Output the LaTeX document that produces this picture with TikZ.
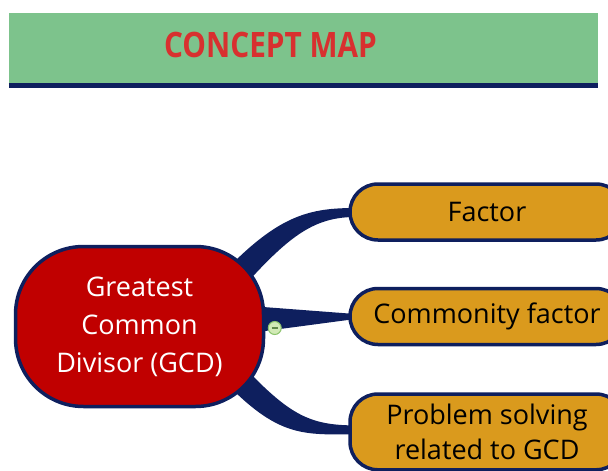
\documentclass[tikz,border=0pt]{standalone}
\usepackage{fontspec}
\setmainfont{Open Sans}
\usetikzlibrary{positioning}
\usetikzlibrary{calc}
\usetikzlibrary{backgrounds}
\definecolor{navy}{HTML}{0E1F5E}
\definecolor{bannergreen}{HTML}{7DC38C}
\definecolor{titlered}{HTML}{D8302F}
\definecolor{gcdred}{HTML}{C00000}
\definecolor{topicorange}{HTML}{DA9A1D}
\definecolor{foldgreen}{HTML}{D2EAB6}
\definecolor{foldedge}{HTML}{8CC46C}
\tikzset{
     banner/.style={
           rectangle,
           fill=bannergreen,
           minimum width=589pt,
           minimum height=72pt,
           inner sep=0pt,
           },
     maintopic/.style={
           rectangle,
           rounded corners=68pt,
           fill=gcdred,
           draw=navy, line width=3.5pt,
           minimum width=248pt,
           minimum height=160pt,
           text=white,
           align=center,
           font=\fontsize{27}{38}\selectfont,
           },
     subtopic/.style={
           rectangle,
           rounded corners=28pt,
           fill=topicorange,
           draw=navy, line width=3.5pt,
           minimum width=274pt,
           minimum height=56pt,
           inner ysep=10pt,
           align=center,
           font=\fontsize{27}{35}\selectfont,
           },
     branch/.style={
           fill=navy,
           },
     fold/.style={
           circle,
           fill=foldgreen,
           draw=foldedge, line width=1pt,
           minimum size=13pt,
           inner sep=0pt,
           },
}

\begin{document}
\begin{tikzpicture}[x=1pt, y=-1pt]
	\useasboundingbox (0,0) rectangle (608,471);

	%title bar
	\node[banner] (bar) at (303.5,49) {};
	\draw[navy, line width=5pt] (bar.south west) -- (bar.south east);
	\node[text=titlered, font=\fontsize{35}{42}\selectfont\bfseries] (title) at (270.5,45) {\scalebox{0.85}[1]{CONCEPT MAP}};

	%topics
	\node[maintopic] (gcd) at (139.5,326.5) {Greatest\\ Common\\ Divisor (GCD)};
	\node[subtopic, right=83pt of gcd, yshift=10pt] (common) {Commonity factor};
	\node[subtopic, above=45pt of common] (factor) {Factor};
	\node[subtopic, below=46pt of common] (problem) {Problem solving\\ related to GCD};

	\node[fold, right=2.5pt of gcd.east, yshift=-1.5pt] (toggle) {\color{foldedge!70!black}\rule{6pt}{1.3pt}};

	%EDGES
	\begin{scope}[on background layer]
	\fill[white] (0,0) rectangle (608,471);
	\fill[branch]	($(gcd.center)+(88.5,-58.5)$) .. controls +(52,-53) and +(-45,0) .. ($(factor.west)+(7,-4)$)
				-- ($(factor.west)+(7,5)$) .. controls +(-40,0) and +(45,-50) .. ($(gcd.center)+(105.5,-41.5)$) -- cycle;
	\fill[branch]	($(gcd.center)+(110.5,-20.5)$) -- ($(common.west)+(7,-2.5)$)
				-- ($(common.west)+(7,2.5)$) -- ($(gcd.center)+(110.5,6.5)$) -- cycle;
	\fill[branch]	($(gcd.center)+(105.5,41.5)$) .. controls +(45,47) and +(-45,0) .. ($(problem.west)+(7,-6.5)$)
				-- ($(problem.west)+(7,2.5)$) .. controls +(-50,0) and +(52,53) .. ($(gcd.center)+(88.5,58.5)$) -- cycle;
	\end{scope}

\end{tikzpicture}
\end{document}
